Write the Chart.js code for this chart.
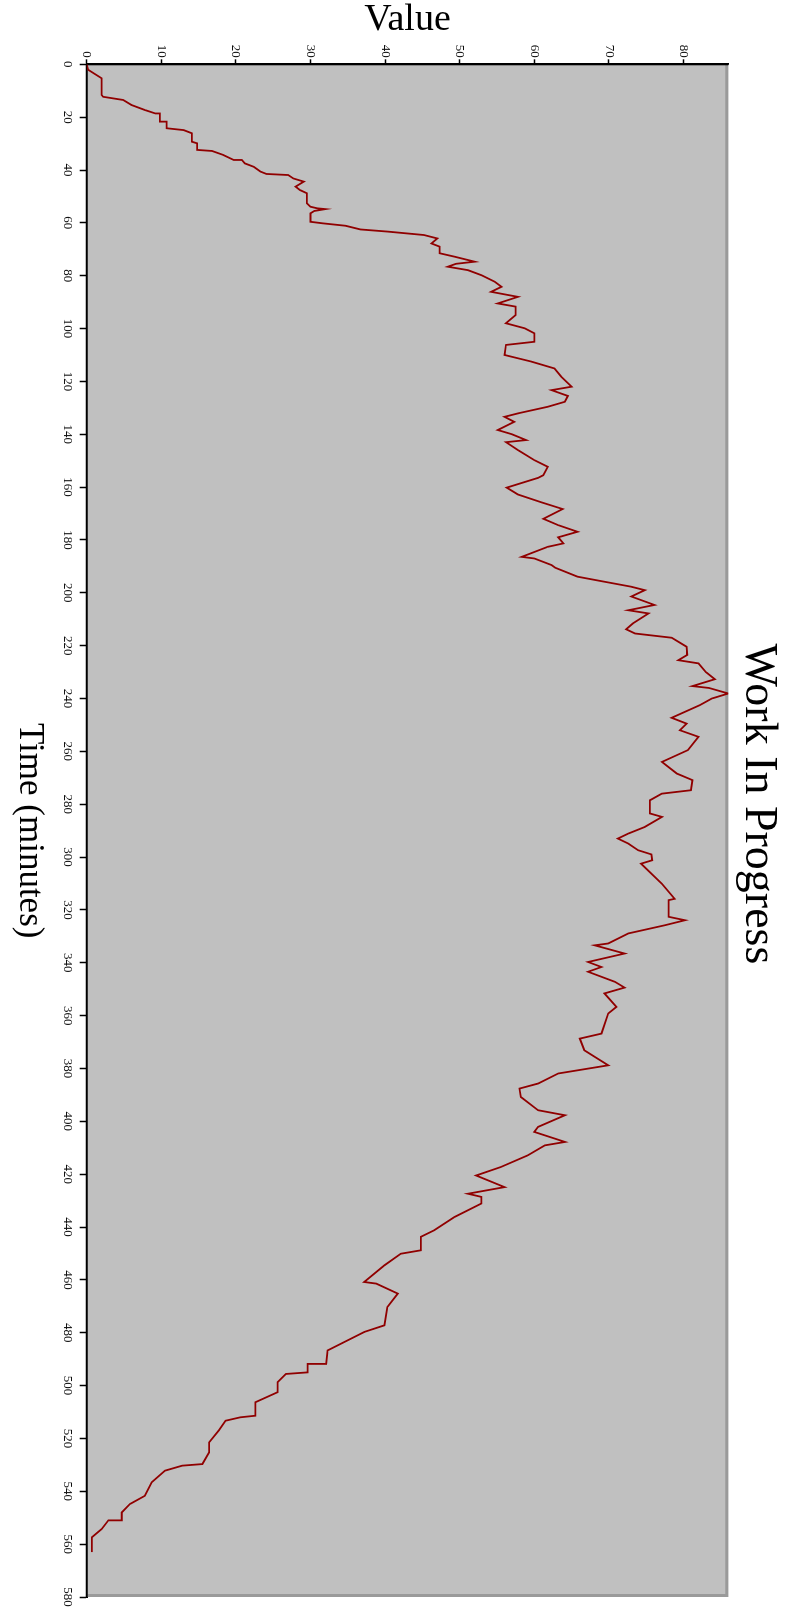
<!DOCTYPE html>
<html><head><meta charset="utf-8">
<script src="https://cdn.jsdelivr.net/npm/chart.js@4.4.1/dist/chart.umd.min.js"></script>
<style>
html,body{margin:0;padding:0;background:#fff;overflow:hidden;width:795px;height:1608px;}
#wrap{position:absolute;left:0;top:0;width:1608px;height:795px;transform-origin:0 0;transform:translateX(795px) rotate(90deg);}
canvas{display:block;}
</style></head><body>
<div id="wrap"><canvas id="c" width="1608" height="795"></canvas></div>
<script>
const timeMinutes = [0,2.1,5.3,11.6,12.3,13.5,15.4,17.3,18.6,18.6,21.7,21.7,24.2,24.9,26.1,29.3,29.9,32.4,32.8,34.3,36.2,36.2,37.5,38.8,40.6,41.5,41.9,43.2,44.4,46.3,47.6,48.8,52.6,53.9,54.5,54.8,55.5,56.4,59.6,60.2,61.1,62.5,63.3,64.6,65.9,67.8,69.0,71.5,72.8,74.7,75.5,76.6,77.9,79.8,82.3,84.2,86.1,88.0,90.5,91.7,94.9,98.0,99.9,101.8,105.0,106.2,110.0,112.5,115.1,118.2,122.0,123.3,125.5,127.7,129.6,132.1,133.4,135.3,138.4,140.0,142.2,143.0,146.0,149.8,152.3,155.5,156.5,160.2,162.8,165.8,168.3,172.0,174.4,176.9,179.0,181.3,182.6,186.4,187.0,189.5,190.5,193.9,195.8,197.7,199.0,201.4,204.6,206.6,207.8,211.6,213.8,215.4,217.0,220.4,223.5,225.5,226.7,230.0,232.7,235.3,236.0,238.1,240.0,242.5,247.3,249.5,252.0,254.5,259.5,264.0,268.4,270.9,274.7,276.0,278.5,283.5,284.8,288.6,291.1,293.0,294.9,297.4,299.0,301.2,302.5,310.1,315.8,316.3,322.6,323.9,325.8,328.9,332.7,333.4,336.5,339.7,341.6,343.4,347.2,349.4,351.6,356.7,359.2,366.8,368.7,373.1,375.6,378.8,381.9,385.7,387.6,390.8,395.8,397.7,402.1,404.0,407.8,409.1,412.9,417.3,420.5,424.9,427.4,428.6,431.1,436.2,441.2,443.7,448.8,450.1,454.5,460.8,461.4,465.2,470.3,477.2,479.7,486.7,491.8,491.8,495.0,495.6,498.7,502.5,506.3,511.4,512.0,513.3,517.0,521.5,525.3,529.7,530.3,532.2,536.6,541.7,544.8,548.0,551.0,551.0,554.3,557.4,563.0];
const wipValues = [0,0.2,2.0,2.0,2.2,4.9,6.0,7.8,9.2,9.8,9.8,10.7,10.7,13.0,14.1,14.1,14.8,14.8,16.8,18.3,19.7,20.8,21.2,22.4,23.3,24.1,27.0,27.7,29.1,28.0,28.6,29.5,29.5,30.0,30.9,32.0,30.5,30.0,30.0,31.7,34.7,36.7,40.3,45.2,47.0,46.2,47.3,47.3,49.3,52.0,49.5,48.4,51.1,52.9,54.7,55.6,54.2,57.8,55.1,57.5,57.5,56.2,58.7,60.0,60.0,56.2,56.0,59.6,62.7,63.6,65.0,62.3,64.5,64.1,61.8,57.8,56.0,57.3,55.1,57.0,58.9,56.2,57.8,60.0,61.8,61.2,60.5,56.3,57.8,61.0,63.8,61.2,63.2,65.8,63.2,63.9,61.8,58.3,60.0,62.3,62.8,65.8,69.4,73.0,74.8,73.0,76.1,72.6,75.3,73.2,72.3,73.5,78.4,80.4,80.5,79.3,82.0,83.0,84.2,81.2,83.4,86.0,83.8,82.2,78.4,80.4,79.5,82.0,80.6,77.1,79.1,81.2,81.0,77.1,75.5,75.5,77.1,74.8,72.6,71.2,72.6,73.9,75.7,75.8,74.3,77.1,78.8,78.0,78.0,80.2,77.5,72.6,69.9,68.1,72.1,67.2,69.0,67.2,70.8,72.1,69.4,71.0,69.9,69.0,66.1,66.7,68.1,69.9,63.2,60.5,58.0,58.2,60.5,64.1,60.5,60.0,64.1,61.4,59.1,55.5,52.2,56.0,51.1,52.9,52.9,49.3,46.6,44.8,44.8,42.1,39.9,37.2,38.8,41.7,40.3,39.9,37.2,32.3,32.1,29.6,29.6,26.7,25.6,25.6,22.6,22.6,20.6,18.6,17.7,16.4,16.4,15.5,12.8,10.5,8.7,7.8,5.8,4.7,4.7,2.9,2.0,0.7,0.7];
const timeTicks = [0,20,40,60,80,100,120,140,160,180,200,220,240,260,280,300,320,340,360,380,400,420,440,460,480,500,520,540,560,580];
const valueTicks = [0,10,20,30,40,50,60,70,80];

const serif = "'Liberation Serif','Times New Roman',serif";
const points = timeMinutes.map((t, i) => ({x: t, y: wipValues[i]}));

const plotBg = {
  id: 'plotBg',
  beforeDatasetsDraw(chart) {
    const {ctx, chartArea: a} = chart;
    ctx.save();
    ctx.fillStyle = '#c0c0c0';
    ctx.fillRect(a.left, a.top, a.right - a.left, a.bottom - a.top);
    ctx.strokeStyle = '#9a9a9a';
    ctx.lineWidth = 3;
    ctx.beginPath();
    ctx.moveTo(a.left, a.top + 1.5);
    ctx.lineTo(a.right - 1.5, a.top + 1.5);
    ctx.lineTo(a.right - 1.5, a.bottom);
    ctx.stroke();
    ctx.strokeStyle = '#000';
    ctx.lineWidth = 2;
    ctx.beginPath();
    ctx.moveTo(a.left, a.top);
    ctx.lineTo(a.left, a.bottom);
    ctx.lineTo(a.right, a.bottom);
    ctx.stroke();
    ctx.restore();
  }
};

new Chart(document.getElementById('c'), {
  type: 'line',
  data: {
    datasets: [{
      data: points,
      borderColor: '#900000',
      borderWidth: 1.8,
      pointRadius: 0,
      tension: 0,
      fill: false
    }]
  },
  options: {
    responsive: false,
    animation: false,
    devicePixelRatio: 1,
    events: [],
    plugins: {
      legend: {display: false},
      tooltip: {enabled: false},
      title: {
        display: true,
        text: 'Work In Progress',
        color: '#000',
        font: {family: serif, size: 46, weight: 'normal', lineHeight: 1},
        padding: {top: 14.3, bottom: 6.4}
      }
    },
    scales: {
      x: {
        type: 'linear',
        min: 0, max: 580,
        afterBuildTicks(s) { s.ticks = timeTicks.map(v => ({value: v})); },
        afterFit(s) { s.height = 86.7; s.paddingLeft = 0; s.paddingRight = 11; },
        ticks: {font: {family: serif, size: 13}, color: '#111', padding: 4, maxRotation: 0, autoSkip: false},
        grid: {drawOnChartArea: false, drawTicks: true, tickLength: 7, tickColor: '#000', tickWidth: 1.5},
        border: {display: true, color: '#000', width: 2},
        title: {display: true, text: 'Time (minutes)', color: '#000', font: {family: serif, size: 35, lineHeight: 1}, padding: {top: 0, bottom: 12}}
      },
      y: {
        type: 'linear',
        min: 0, max: 86,
        afterBuildTicks(s) { s.ticks = valueTicks.map(v => ({value: v})); },
        afterFit(s) { s.width = 64.3; s.paddingTop = 0; s.paddingBottom = 0; },
        ticks: {font: {family: serif, size: 13}, color: '#111', padding: 1.5, autoSkip: false},
        grid: {drawOnChartArea: false, drawTicks: true, tickLength: 5, tickColor: '#000', tickWidth: 1.5},
        border: {display: true, color: '#000', width: 2},
        title: {display: true, text: 'Value', color: '#000', font: {family: serif, size: 38, lineHeight: 1}, padding: {top: 1.5, bottom: 0}}
      }
    }
  },
  plugins: [plotBg]
});
</script>
</body></html>
